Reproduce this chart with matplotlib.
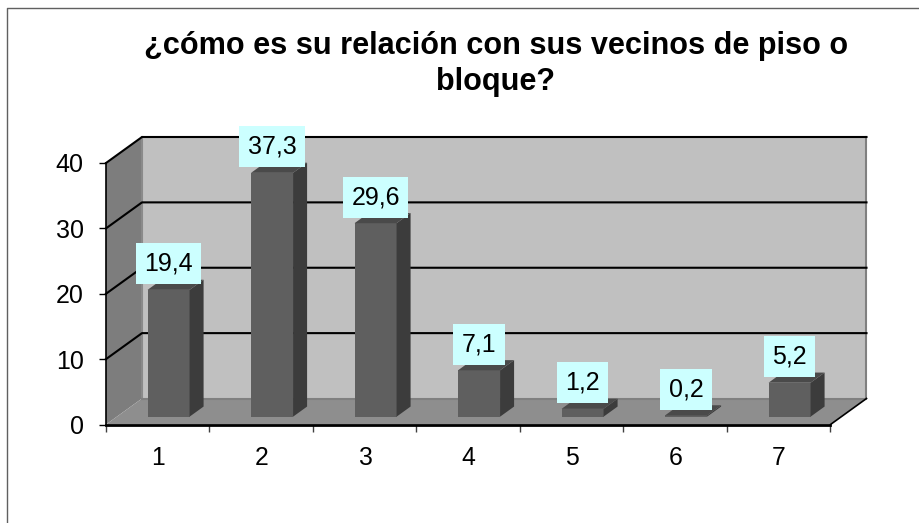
import matplotlib
matplotlib.use("Agg")
import matplotlib.pyplot as plt

plt.rcParams["font.family"] = ["Liberation Sans", "DejaVu Sans"]

title = "¿cómo es su relación con sus vecinos de piso o\nbloque?"
categories = ["1", "2", "3", "4", "5", "6", "7"]
values = [19.4, 37.3, 29.6, 7.1, 1.2, 0.2, 5.2]
labels = ["19,4", "37,3", "29,6", "7,1", "1,2", "0,2", "5,2"]
yticks = [0, 10, 20, 30, 40]

W, H = 920, 523
# front plane of the fake 3d box, in pixels
left, right, base, top = 106, 830.5, 424.5, 163

fig = plt.figure(figsize=(W / 100, H / 100), dpi=100)
ax = fig.add_axes([left / W, 1 - base / H, (right - left) / W, (base - top) / H])
ax.patch.set_visible(False)
ax.set_xlim(0, 7)
ax.set_ylim(0, 40)

# depth of the box in data units
dx = 36 / ((right - left) / 7)
dy = 26 / ((base - top) / 40)


def face(xs, ys, color, z=1):
    ax.fill(xs, ys, color=color, lw=0, clip_on=False, zorder=z)


# walls and floor
face([0, dx, dx, 0], [0, dy, 40 + dy, 40], "#7d7d7d")
face([dx, 7 + dx, 7 + dx, dx], [dy, dy, 40 + dy, 40 + dy], "#c0c0c0")
face([0, 7, 7 + dx, dx], [0, 0, dy, dy], "#8e8e8e")
ax.plot([dx, dx], [dy, 40 + dy], color="#8a8a8a", lw=1.5, clip_on=False, zorder=2)
ax.plot([dx, 7 + dx, 7 + dx], [dy, dy, 40 + dy], color="#808080", lw=1.5, clip_on=False, zorder=2)

# gridlines run along left wall and back wall
for t in yticks[1:]:
    ax.plot([0, dx, 7 + dx], [t, t + dy, t + dy], color="black", lw=1.5, clip_on=False, zorder=3)
ax.plot([7, 7 + dx], [0, dy], color="black", lw=1.2, clip_on=False, zorder=3)

# bars
bw = 42 / ((right - left) / 7)
front = 0.3
depth = 0.39
for i, v in enumerate(values):
    x0 = i + 0.5 - bw / 2 + front * dx
    x1 = x0 + bw
    y0 = front * dy
    y1 = y0 + v
    ox = depth * dx
    oy = depth * dy
    face([x0, x1, x1, x0], [y0, y0, y1, y1], "#5f5f5f", z=4)
    face([x1, x1 + ox, x1 + ox, x1], [y0, y0 + oy, y1 + oy, y1], "#3c3c3c", z=4)
    face([x0, x1, x1 + ox, x0 + ox], [y1, y1, y1 + oy, y1 + oy], "#4a4a4a", z=4)
    ax.annotate(labels[i], (i + 0.5 + front * dx, y1), xytext=(0, 26 * 0.72), textcoords="offset points",
                ha="center", va="center", fontsize=18, zorder=5, annotation_clip=False,
                bbox=dict(boxstyle="square,pad=0.34", fc="#ccffff", ec="none"))

# axes
for s in ["top", "right"]:
    ax.spines[s].set_visible(False)
ax.spines["left"].set_linewidth(1.2)
ax.spines["bottom"].set_linewidth(2)
ax.spines["left"].set_zorder(6)
ax.spines["bottom"].set_zorder(6)
ax.set_yticks(yticks)
ax.set_xticks(range(8))
ax.set_xticklabels([])
ax.set_xticks([i + 0.5 for i in range(7)], categories, minor=True)
ax.tick_params(axis="x", which="major", length=5, width=1, color="#404040")
ax.tick_params(axis="x", which="minor", length=0, pad=15.5, labelsize=17.8)
ax.tick_params(axis="y", length=5, width=1, pad=11, labelsize=18)
for lab in ax.get_yticklabels():
    lab.set_verticalalignment("center_baseline")

fig.text(496 / W, 1 - 64 / H, title, ha="center", va="center", fontsize=22.1, fontweight="bold", linespacing=1.3)

# outer frame of the chart area
fig.add_artist(plt.Line2D([7 / W, 7 / W, 1], [0, 1 - 8 / H, 1 - 8 / H], color="#606060", lw=1))

fig.savefig("out.png", dpi=100)
